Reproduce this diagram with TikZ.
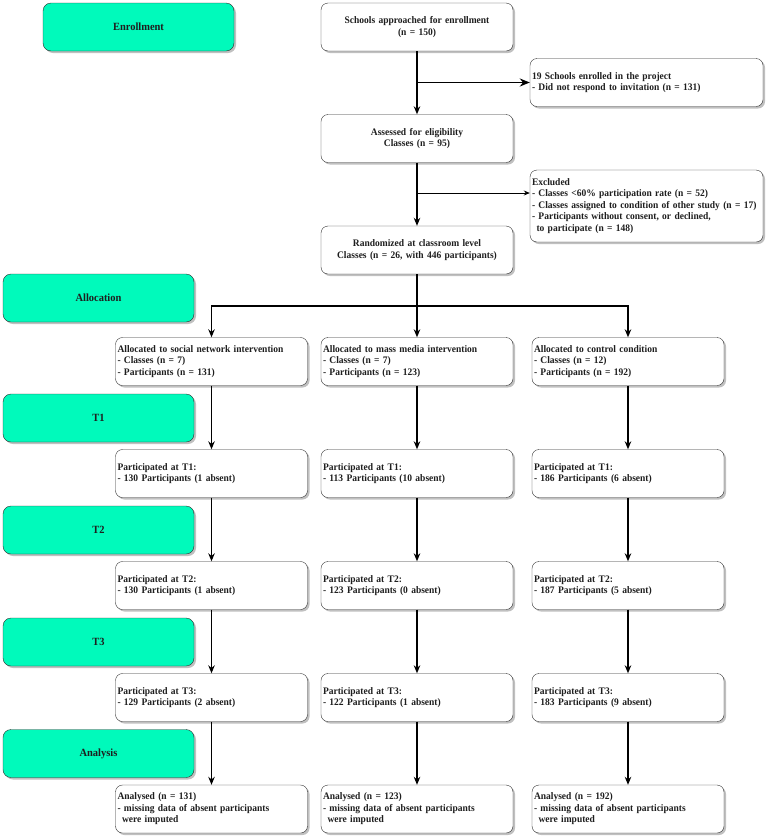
\documentclass[tikz,border=0pt]{standalone}
\usepackage{fontspec}
\setmainfont{Liberation Serif}[FakeStretch=0.95]
\usetikzlibrary{arrows.meta,shadows}
\definecolor{phasegreen}{RGB}{0,250,187}
\definecolor{boxline}{RGB}{45,45,45}
\definecolor{inktext}{RGB}{30,30,30}

\begin{document}
\begin{tikzpicture}[x=1pt, y=-1pt,
  boxshadow/.style={drop shadow={shadow xshift=2pt, shadow yshift=-2pt, fill=black!55, opacity=0.45}},
  phase/.style={draw=boxline, fill=phasegreen, rounded corners=8pt, minimum width=191pt, minimum height=48pt,
    font=\fontsize{11}{13}\selectfont\bfseries, text=inktext, boxshadow},
  flowbox/.style={draw=boxline, fill=white, rounded corners=7pt, text width=188pt, inner xsep=2pt, inner ysep=0pt,
    minimum height=48pt, align=left, font=\fontsize{10}{11.5}\selectfont\bfseries, text=inktext, boxshadow},
  midbox/.style={flowbox, align=center},
  sidebox/.style={flowbox, text width=229pt},
  arr/.style={-{Stealth[length=8pt, width=6.5pt]}, line width=1.3pt, black},
  bigarr/.style={-{Stealth[length=10pt, width=8pt]}, line width=1.8pt, black},
  thinarr/.style={-{Stealth[length=6pt, width=5pt]}, line width=0.8pt, black}
]
  \useasboundingbox (0,0) rectangle (766,839);

  % === Fasi (colonna sinistra) ===
  \node[phase] (phEnroll) at (138.5, 27) {Enrollment};
  \node[phase] (phAlloc) at (98.5, 298) {Allocation};
  \node[phase] (phT1) at (98.5, 418) {T1};
  \node[phase] (phT2) at (98.5, 530) {T2};
  \node[phase] (phT3) at (98.5, 642) {T3};
  \node[phase] (phAnalysis) at (98.5, 753.5) {Analysis};

  % === Arruolamento ===
  \node[midbox] (schools) at (417, 27) {Schools approached for enrollment\\(n = 150)};
  \node[sidebox] (enrolled) at (646.5, 82.5) {19 Schools enrolled in the project\\- Did not respond to invitation (n = 131)};
  \node[midbox] (assessed) at (417, 138.5) {Assessed for eligibility\\Classes (n = 95)};
  \node[sidebox, minimum height=72pt] (excluded) at (646.5, 206) {Excluded\\- Classes <60\% participation rate (n = 52)\\- Classes assigned to condition of other study (n = 17)\\- Participants without consent, or declined,\\\hspace{0.45em}to participate (n = 148)};
  \node[midbox] (random) at (417, 250) {Randomized at classroom level\\Classes (n = 26, with 446 participants)};

  \coordinate (exBranch) at (417, 193);
  \draw[arr] (schools) -- (assessed);
  \draw[bigarr] (schools.south |- enrolled.west) -- (enrolled.west);
  \draw[arr] (assessed) -- (random);
  \draw[thinarr] (exBranch) -- (excluded.west |- exBranch);

  % === Bracci dello studio ===
  \node[flowbox] (alSocial) at (211.5, 361.5) {Allocated to social network intervention\\- Classes (n = 7)\\- Participants (n = 131)};
  \node[flowbox] (alMedia) at (417, 361.5) {Allocated to mass media intervention\\- Classes (n = 7)\\- Participants (n = 123)};
  \node[flowbox] (alControl) at (628, 361.5) {Allocated to control condition\\- Classes (n = 12)\\- Participants (n = 192)};

  \coordinate (split) at (417, 306);
  \draw[arr] (random) -- (alMedia);
  \draw[arr] (split) -| (alSocial.north);
  \draw[arr] (split) -| (alControl.north);

  % T1
  \node[flowbox] (tASocial) at (211.5, 473.5) {Participated at T1:\\- 130 Participants (1 absent)};
  \node[flowbox] (tAMedia) at (417, 473.5) {Participated at T1:\\- 113 Participants (10 absent)};
  \node[flowbox] (tAControl) at (628, 473.5) {Participated at T1:\\- 186 Participants (6 absent)};

  % T2
  \node[flowbox] (tBSocial) at (211.5, 585.5) {Participated at T2:\\- 130 Participants (1 absent)};
  \node[flowbox] (tBMedia) at (417, 585.5) {Participated at T2:\\- 123 Participants (0 absent)};
  \node[flowbox] (tBControl) at (628, 585.5) {Participated at T2:\\- 187 Participants (5 absent)};

  % T3
  \node[flowbox] (tCSocial) at (211.5, 697.5) {Participated at T3:\\- 129 Participants (2 absent)};
  \node[flowbox] (tCMedia) at (417, 697.5) {Participated at T3:\\- 122 Participants (1 absent)};
  \node[flowbox] (tCControl) at (628, 697.5) {Participated at T3:\\- 183 Participants (9 absent)};

  % Analisi
  \node[flowbox] (anSocial) at (211.5, 809) {Analysed (n = 131)\\- missing data of absent participants\\\hspace{0.45em}were imputed};
  \node[flowbox] (anMedia) at (417, 809) {Analysed (n = 123)\\- missing data of absent participants\\\hspace{0.45em}were imputed};
  \node[flowbox] (anControl) at (628, 809) {Analysed (n = 192)\\- missing data of absent participants\\\hspace{0.45em}were imputed};

  \foreach \arm in {Social, Media, Control}{
    \draw[arr] (al\arm) -- (tA\arm);
    \draw[arr] (tA\arm) -- (tB\arm);
    \draw[arr] (tB\arm) -- (tC\arm);
    \draw[arr] (tC\arm) -- (an\arm);
  }
\end{tikzpicture}
\end{document}
